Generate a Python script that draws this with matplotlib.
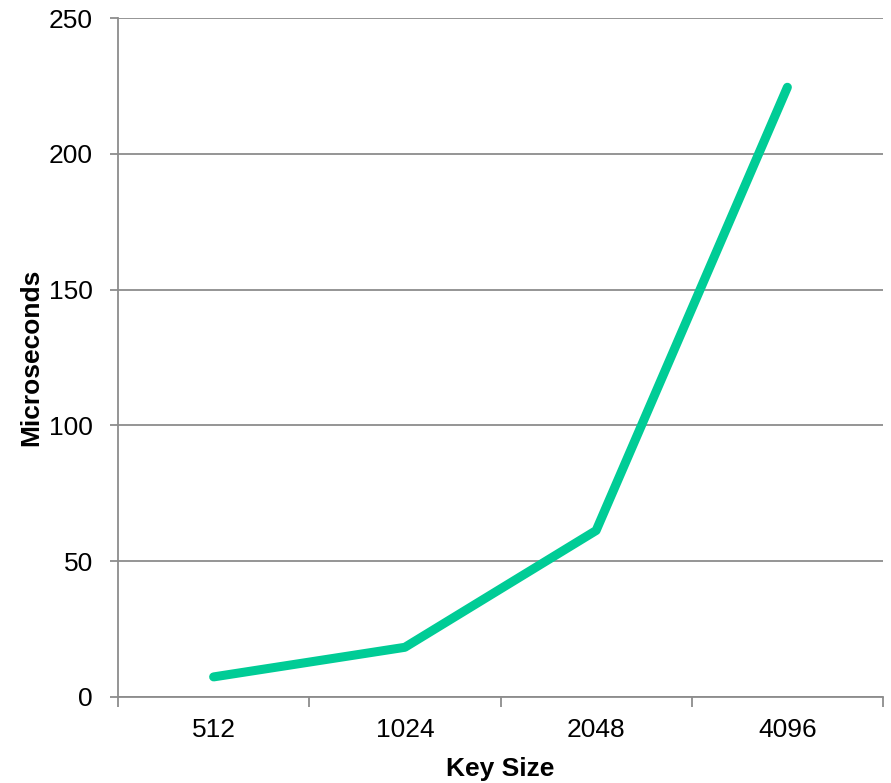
import matplotlib
matplotlib.use("Agg")
import matplotlib.pyplot as plt
import numpy as np

categories = ["512", "1024", "2048", "4096"]
values = [7.4, 18.3, 61.3, 224.5]
y_ticks = [0, 50, 100, 150, 200, 250]

plt.rcParams['font.family'] = ['Liberation Sans', 'DejaVu Sans']

fig = plt.figure(figsize=(8.91, 7.83), dpi=100)
ax = fig.add_axes([118/891, 1-697/783, (883-118)/891, (697-18)/783])

grid_c = '#8c8c8c'
x = np.arange(len(categories))
ax.plot(x, values, color='#00CC96', linewidth=6.5, solid_capstyle='round', solid_joinstyle='round', zorder=3)

ax.set_xlim(-0.5, len(categories) - 0.5)
ax.set_ylim(0, 250)
ax.set_yticks(y_ticks)
ax.yaxis.grid(True, color=grid_c, linewidth=1.3)
ax.set_axisbelow(True)

ax.set_xticks(x)
ax.set_xticklabels(categories)
ax.set_xticks(np.arange(-0.5, len(categories)), minor=True)
ax.tick_params(axis='x', which='major', length=0, pad=15, labelsize=19)
ax.tick_params(axis='x', which='minor', length=7, width=1.3, color=grid_c, direction='out')
ax.tick_params(axis='y', length=6, width=1.3, color=grid_c, direction='out', pad=12, labelsize=19)

for s in ['top', 'right']:
    ax.spines[s].set_visible(False)
for s in ['left', 'bottom']:
    ax.spines[s].set_color(grid_c)
    ax.spines[s].set_linewidth(1.3)

ax.set_xlabel("Key Size", fontsize=19, fontweight='bold', labelpad=11)
ax.set_ylabel("Microseconds", fontsize=19, fontweight='bold', labelpad=4)

fig.savefig("out.png", dpi=100)
